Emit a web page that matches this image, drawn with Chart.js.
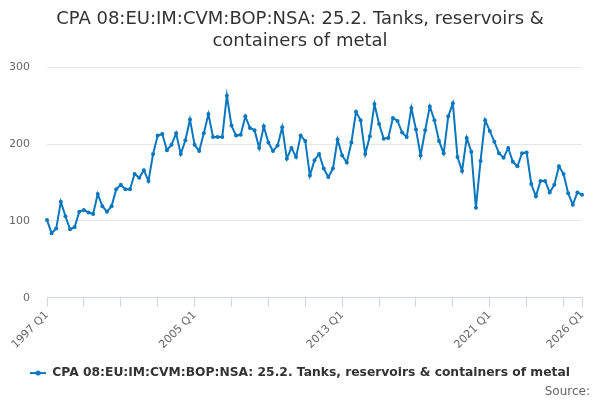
<!DOCTYPE html>
<html>
<head>
<meta charset="utf-8">
<script src="https://cdn.jsdelivr.net/npm/chart.js@4"></script>
<style>
  body { margin: 0; background: #fff; }
  #wrap { width: 600px; height: 400px; }
</style>
</head>
<body>
<div id="wrap"><canvas id="myChart" width="600" height="400"></canvas></div>
<script>
// datos trimestrales
const firstYear = 1997;
const lastYear = 2026;
const quarters = [];
for (let y = firstYear; y <= lastYear; y++) {
  for (let q = 1; q <= 4; q++) {
    if (y === lastYear && q > 1) break;
    quarters.push(y + ' Q' + q);
  }
}

const valores = [
  101, 84, 90, 125, 106, 89, 92, 112, 114, 111, 109, 135, 119, 112, 119, 141, 147, 141, 141, 161,
  156, 166, 152, 187, 211, 213, 192, 199, 214, 187, 205, 232, 199, 191,
  214, 239, 209, 209, 209, 263, 224, 211, 212, 236, 221, 218, 195, 223, 202, 191, 198, 222, 181, 195,
  183, 211, 204, 159, 179, 187, 168, 157, 168, 206,
  185, 176, 202, 242, 231, 187, 210, 252, 226, 207, 208, 234, 230, 215, 209, 247, 219, 185, 218, 249,
  231, 204, 188, 236, 253, 183, 165, 208, 190, 117, 178,
  231, 217, 203, 188, 182, 195, 177, 171, 188, 189, 148, 132, 152, 152, 137, 147, 171, 161, 136, 121,
  137, 134
];

const yTicks = [0, 100, 200, 300];
const tituloSerie = 'CPA 08:EU:IM:CVM:BOP:NSA: 25.2. Tanks, reservoirs & containers of metal';
const titulo = ['CPA 08:EU:IM:CVM:BOP:NSA: 25.2. Tanks, reservoirs &', 'containers of metal'];

const azul = '#0a77be';

// simbolo de leyenda: linea con punto
const simbolo = document.createElement('canvas');
simbolo.width = 16;
simbolo.height = 8;
const sc = simbolo.getContext('2d');
sc.strokeStyle = azul;
sc.lineWidth = 2;
sc.beginPath();
sc.moveTo(0, 4);
sc.lineTo(16, 4);
sc.stroke();
sc.fillStyle = azul;
sc.beginPath();
sc.arc(8, 4, 2.5, 0, Math.PI * 2);
sc.fill();

Chart.defaults.font.family = '"DejaVu Sans", sans-serif';

const ctx = document.getElementById('myChart').getContext('2d');
const last = quarters.length - 1;

const myChart = new Chart(ctx, {
  type: 'line',
  data: {
    labels: quarters,
    datasets: [{
      label: tituloSerie,
      data: valores,
      borderColor: azul,
      backgroundColor: azul,
      borderWidth: 2,
      pointRadius: 2,
      pointHoverRadius: 3,
      pointBorderWidth: 0,
      tension: 0
    }]
  },
  options: {
    responsive: false,
    animation: false,
    layout: { padding: { left: 10, right: 10, top: 0, bottom: 0 } },
    plugins: {
      title: {
        display: true,
        text: titulo,
        color: '#333333',
        font: { size: 18, weight: 'normal', lineHeight: 1.2 },
        padding: { top: 9, bottom: 15 }
      },
      subtitle: {
        display: true,
        position: 'bottom',
        align: 'end',
        text: 'Source:',
        color: '#666666',
        font: { size: 12, weight: 'normal', lineHeight: 1.1 },
        padding: { top: -4.4, bottom: 2 }
      },
      legend: {
        position: 'bottom',
        labels: {
          usePointStyle: true,
          pointStyle: simbolo,
          pointStyleWidth: 16,
          color: '#333333',
          font: { size: 12.3, weight: 'bold' },
          padding: 10
        }
      },
      tooltip: { enabled: false }
    },
    scales: {
      x: {
        offset: false,
        grid: {
          display: true,
          drawOnChartArea: false,
          drawTicks: true,
          tickLength: 9,
          color: '#ccd6eb'
        },
        border: { display: true, color: '#ccd6eb' },
        ticks: {
          autoSkip: false,
          minRotation: 45,
          maxRotation: 45,
          color: '#666666',
          font: { size: 11 },
          padding: 2,
          callback: function (val, i) {
            if (i % 8 !== 0 && i !== last) return null;
            if (i % 32 === 0 || i === last) return quarters[i];
            return '';
          }
        },
        afterFit: function (scale) { scale.height = 59.2; }
      },
      y: {
        min: 0,
        max: 300,
        grid: { color: '#e6e6e6', drawTicks: false },
        border: { display: false },
        afterBuildTicks: function (scale) {
          scale.ticks = yTicks.map(v => ({ value: v }));
        },
        ticks: {
          color: '#666666',
          font: { size: 11 },
          padding: 17
        },
        afterFit: function (scale) { scale.width = 37; }
      },
      // eje vacio a la derecha, solo para el margen
      yDer: {
        position: 'right',
        min: 0,
        max: 300,
        grid: { display: false },
        border: { display: false },
        ticks: { display: false },
        afterFit: function (scale) { scale.width = 8; }
      }
    }
  }
});
</script>
</body>
</html>
